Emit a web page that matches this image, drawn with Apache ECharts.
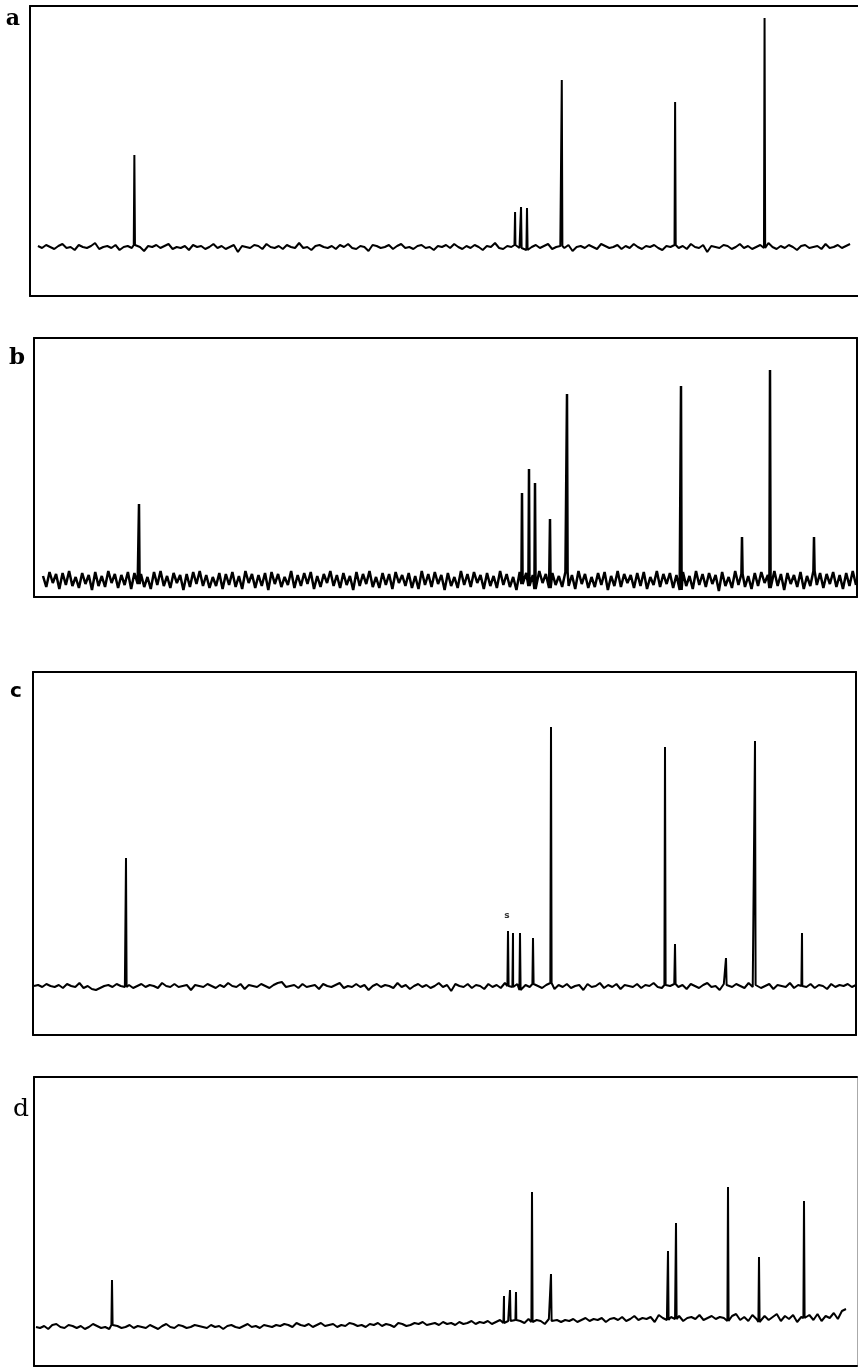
<!DOCTYPE html>
<html>
<head>
<meta charset="utf-8">
<script src="https://cdn.jsdelivr.net/npm/echarts@6/dist/echarts.min.js"></script>
<style>html,body{margin:0;padding:0;background:#fff}#c{width:858px;height:1369px}</style>
</head>
<body>
<div id="c"></div>
<script>
// Panel labels
const panelLabels = ['a', 'b', 'c', 'd'];

// Peak positions (position units from box left) and intensities (baseline = 0)
const peaksAX = [105, 488, 494, 500, 535, 649, 739];
const peaksAY = [92, 35, 40, 39, 167, 145, 229];
const peaksBX = [105, 488, 495, 501, 516, 533, 647, 708, 736, 780];
const peaksBY = [76, 87, 111, 97, 61, 186, 194, 43, 210, 43];
const peaksCX = [93, 475, 480, 487, 500, 518, 632, 642, 693, 722, 769];
const peaksCY = [128, 55, 53, 53, 48, 259, 239, 42, 28, 245, 53];
const peaksDX = [78, 470, 476, 482, 498, 517, 634, 642, 694, 725, 770];
const peaksDY = [47, 31, 37, 35, 135, 53, 76, 104, 140, 70, 126];

// Baseline noise read (estimated) from the traces, equally spaced samples
const noiseA = [1,-1,2,0,-2,1,3,-1,0,-3,2,0,-1,1,4,-2,0,1,-1,2,-3,0,1,-1,2,0,-4,1,0,2,-1,1,3,-2,0,-1,1,-3,2,0,1,-2,0,3,-1,1,-2,0,2,-5,1,0,-1,2,1,-2,3,0,-1,1,-2,2,0,-1,4,-1,0,-3,1,2,0,-1,1,-2,2,0,3,-1,-2,1,0,-4,2,1,-1,0,2,-2,1,3,-1,0,-2,1,2,-1,0,-3,1,0,2,-1,3,0,-2,1,-1,2,0,-3,1,0,4,-1,-2,1,0,2,-1,1,-3,0,2,-1,1,3,-2,0,1,-1,2,-4,0,1,-1,2,0,-2,3,1,-1,0,2,-2,1,-1,3,0,-2,1,0,2,-1,-3,1,0,2,-1,1,-2,3,0,-1,2,-5,1,0,-1,2,1,-2,0,3,-1,1,-2,0,2,-1,4,0,-2,1,-1,2,0,-3,1,2,-1,0,1,-2,3,-1,0,2,-1,1,3];
const noiseB = [4,-7,8,-3,6,-9,7,-5,9,-6,3,-8,7,-4,5,-10,8,-6,4,-7,9,-3,6,-8,5,-5,8,-9,7,-4,6,-7,3,-9,8,-5,9,-6,4,-8,7,-3,5,-10,6,-7,8,-4,9,-6,5,-8,3,-6,7,-9,6,-5,8,-7,4,-9,9,-3,6,-8,5,-6,7,-10,8,-4,6,-7,3,-5,9,-8,5,-6,7,-4,8,-9,4,-7,6,-3,9,-6,5,-8,7,-5,4,-10,8,-6,6,-4,9,-7,3,-8,7,-5,6,-9,8,-3,5,-6,7,-8,4,-9,9,-5,6,-7,8,-4,5,-10,7,-6,3,-8,9,-5,6,-7,8,-3,5,-9,7,-6,4,-8,9,-5,6,-7,3,-10,8,-4,7,-6,5,-9,9,-3,6,-8,7,-5,4,-7,8,-6,5,-9,9,-4,6,-8,3,-7,7,-5,8,-10,4,-6,9,-7,6,-3,5,-8,7,-6,8,-9,3,-5,9,-7,6,-4,7,-8,5,-10,8,-6,4,-9,9,-5,6,-7,7,-4,5,-11,8,-6,3,-8,9,-5,6,-7,4,-9,7,-6,8,-3,5,-8,9,-6,6,-10,7,-4,5,-7,8,-9,4,-6,9,-5,7,-8,6,-4,8,-7,5,-9,7,-6,9,-5];
const noiseC = [0,1,-1,2,0,-1,1,-2,2,0,-1,3,-2,0,-3,-4,-2,0,1,-1,2,0,-1,1,-2,0,2,-1,1,0,-2,3,0,-1,2,-1,0,1,-4,1,0,-1,2,0,-2,1,-1,3,0,-1,2,-3,1,0,-1,2,0,-2,1,3,4,-1,0,1,-2,2,-1,0,1,-3,2,0,-1,1,3,-2,0,-1,2,-1,1,-4,0,2,-1,1,0,-2,3,-1,1,-3,0,2,-1,1,-2,0,3,-1,1,-5,2,0,-1,2,-2,1,0,-3,2,-1,1,-2,3,0,-1,2,-4,1,-1,2,0,-2,1,3,-3,1,-1,2,-2,0,1,-4,2,-1,0,3,-2,1,-1,2,-3,1,0,-1,2,-2,1,0,3,-1,-2,1,0,2,-1,1,-3,2,0,-2,1,3,-1,0,-4,2,1,-1,2,0,-2,3,-1,1,-2,0,2,-3,1,0,-1,3,-2,1,0,-1,2,-2,1,0,-3,2,-1,1,0,2,-1,1];
const noiseD = [0,-1,1,-2,2,3,0,-1,2,1,-1,1,-2,0,3,1,-1,0,-2,2,1,-1,0,2,-1,1,0,-1,2,0,-2,1,3,0,-1,2,1,-1,0,2,1,0,-1,2,0,1,-2,1,2,0,-1,1,3,0,1,-1,2,1,0,2,1,3,2,0,4,2,1,3,0,2,4,1,2,3,0,2,1,4,3,1,2,0,3,2,4,1,3,2,0,4,3,1,2,4,3,5,2,3,4,2,5,3,4,2,5,3,4,6,3,5,4,6,3,5,7,4,6,5,7,6,4,8,5,7,6,3,8,6,7,5,7,6,8,5,7,9,6,8,7,9,5,8,9,7,10,6,8,11,7,9,8,10,5,12,9,7,10,8,11,6,9,10,8,12,7,9,11,8,10,9,6,11,13,7,10,6,12,8,5,11,7,10,13,6,11,8,12,5,10,9,12,7,13,6,11,9,14,8,16,18];

// Trace extents along each axis
const traceStart = [8, 9, 1, 2];
const traceEnd = [825, 822, 823, 812];

function build(noise, xs, xe, px, py) {
  const n = noise.length, step = (xe - xs) / (n - 1);
  const pts = noise.map((v, i) => [xs + i * step, v]);
  px.forEach((x, k) => {
    const idx = Math.max(0, Math.min(n - 1, Math.round((x - xs) / step)));
    const b = noise[idx];
    pts.push([x - 0.6, b], [x, py[k]], [x + 0.6, b]);
  });
  pts.sort((p, q) => p[0] - q[0]);
  return pts;
}

const panels = [
  {noise: noiseA, px: peaksAX, py: peaksAY, left: 30, right: -3, top: 6, bottom: 1369 - 296, w: 833, ymin: -49, ymax: 241, lw: 2.0, rightLine: false, rightColor: '#000'},
  {noise: noiseB, px: peaksBX, py: peaksBY, left: 34, right: 1, top: 338, bottom: 1369 - 597, w: 823, ymin: -17, ymax: 242, lw: 2.5, rightLine: true, rightColor: '#000'},
  {noise: noiseC, px: peaksCX, py: peaksCY, left: 33, right: 2, top: 672, bottom: 1369 - 1035, w: 823, ymin: -49, ymax: 314, lw: 2.0, rightLine: true, rightColor: '#000'},
  {noise: noiseD, px: peaksDX, py: peaksDY, left: 34, right: 1, top: 1077, bottom: 1369 - 1366, w: 823, ymin: -39, ymax: 250, lw: 2.0, rightLine: true, rightColor: '#aaa'}
];

const grid = [], xAxis = [], yAxis = [], series = [];
const axLine = (c, w) => ({show: true, onZero: false, lineStyle: {color: c, width: w}});
panels.forEach((p, i) => {
  grid.push({left: p.left, right: p.right, top: p.top, bottom: p.bottom, containLabel: false});
  xAxis.push({gridIndex: i, type: 'value', min: 0, max: p.w, position: 'bottom', axisLine: axLine('#000', 2), axisTick: {show: false}, axisLabel: {show: false}, splitLine: {show: false}});
  xAxis.push({gridIndex: i, type: 'value', min: 0, max: p.w, position: 'top', axisLine: axLine('#000', 2), axisTick: {show: false}, axisLabel: {show: false}, splitLine: {show: false}});
  yAxis.push({gridIndex: i, type: 'value', min: p.ymin, max: p.ymax, position: 'left', axisLine: axLine('#000', 2), axisTick: {show: false}, axisLabel: {show: false}, splitLine: {show: false}});
  yAxis.push({gridIndex: i, type: 'value', min: p.ymin, max: p.ymax, position: 'right', axisLine: Object.assign(axLine(p.rightColor, p.rightColor === '#000' ? 2 : 1), {show: p.rightLine}), axisTick: {show: false}, axisLabel: {show: false}, splitLine: {show: false}});
  series.push({
    type: 'line', xAxisIndex: 2 * i, yAxisIndex: 2 * i, showSymbol: false, symbol: 'none',
    data: build(p.noise, traceStart[i], traceEnd[i], p.px, p.py),
    lineStyle: {color: '#000', width: p.lw}, animation: false, silent: true
  });
});

// small annotation above the first multiplet in panel c
series.push({
  type: 'scatter', xAxisIndex: 4, yAxisIndex: 4, symbolSize: 0, silent: true, animation: false,
  data: [[474, 70]],
  label: {show: true, formatter: 's', position: 'inside', color: '#000', fontSize: 9, fontWeight: 'bold', fontFamily: 'DejaVu Sans'}
});

const labelPos = [[13, 19, 'DejaVu Serif', 'bold', 22], [17, 358, 'DejaVu Serif', 'bold', 23], [16, 692, 'DejaVu Sans', 'bold', 20], [21, 1109, 'DejaVu Serif', 'normal', 25]];
const graphic = panelLabels.map((t, i) => ({
  type: 'text', x: labelPos[i][0], y: labelPos[i][1],
  style: {text: t, fill: '#000', font: labelPos[i][3] + ' ' + labelPos[i][4] + 'px "' + labelPos[i][2] + '"', textAlign: 'center', textVerticalAlign: 'middle'}
}));

const chart = echarts.init(document.getElementById('c'), null, {renderer: 'canvas'});
chart.setOption({backgroundColor: '#fff', animation: false, grid, xAxis, yAxis, series, graphic});
</script>
</body>
</html>
